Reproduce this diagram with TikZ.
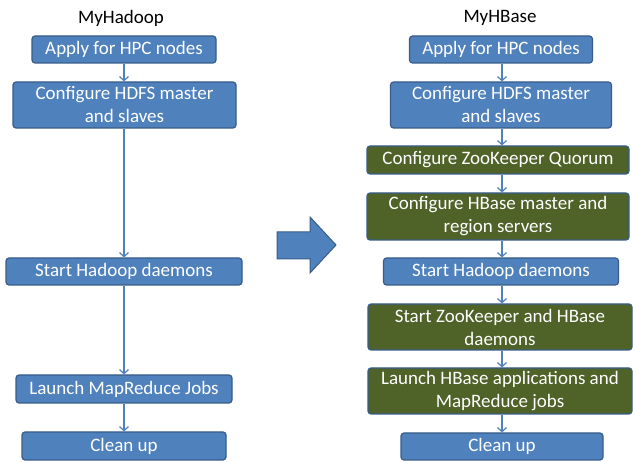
\documentclass[tikz,border=0pt]{standalone}
\usepackage{fontspec}
\setmainfont{Carlito}
\usetikzlibrary{arrows.meta}
\definecolor{boxblue}{HTML}{4F81BD}
\definecolor{boxedge}{HTML}{385D8A}
\definecolor{boxgreen}{HTML}{4F6228}
\tikzset{
  stepbox/.style={draw=boxedge, line width=1.2pt, rounded corners=3pt, fill=boxblue,
    text=white, align=center, inner sep=0pt, font=\fontsize{19}{23}\selectfont},
  greenbox/.style={stepbox, fill=boxgreen},
  flow/.style={draw=boxblue, line width=1.2pt, -{Straight Barb[length=4pt,width=9pt,line width=1.2pt]}},
  heading/.style={font=\fontsize{19}{22}\selectfont, text=black},
}
\begin{document}
\begin{tikzpicture}[x=1pt,y=-1pt]
\useasboundingbox (0,0) rectangle (633,462);
\fill[white] (0,0) rectangle (633,462);

% left column
\node[heading] (tL) at (121,18) {MyHadoop};
\node[stepbox, minimum width=184pt, minimum height=27pt] (apL) at (124,49.5) {Apply for HPC nodes};
\node[stepbox, minimum width=223pt, minimum height=46pt] (hdfsL) at (124.5,105) {Configure HDFS master\\and slaves};
\node[stepbox, minimum width=236pt, minimum height=27pt] (startL) at (124,271.5) {Start Hadoop daemons};
\node[stepbox, minimum width=216pt, minimum height=28pt] (launchL) at (124,389) {Launch MapReduce Jobs};
\node[stepbox, minimum width=204pt, minimum height=28pt] (cleanL) at (124,446) {Clean up};

\draw[flow] (apL.south) -- (apL.south |- hdfsL.north);
\draw[flow] (apL.south |- hdfsL.south) -- (apL.south |- startL.north);
\draw[flow] (apL.south |- startL.south) -- (apL.south |- launchL.north);
\draw[flow] (apL.south |- launchL.south) -- (apL.south |- cleanL.north);

% right column
\node[heading] (tR) at (500,18) {MyHBase};
\node[stepbox, minimum width=183pt, minimum height=27pt] (apR) at (501,49.5) {Apply for HPC nodes};
\node[stepbox, minimum width=221pt, minimum height=46pt] (hdfsR) at (501,105) {Configure HDFS master\\and slaves};
\node[greenbox, minimum width=262pt, minimum height=28pt] (zkq) at (498,160) {Configure ZooKeeper Quorum};
\node[greenbox, minimum width=262pt, minimum height=47pt] (hbm) at (498,216.5) {Configure HBase master and\\region servers};
\node[stepbox, minimum width=235pt, minimum height=27pt] (startR) at (501,271.5) {Start Hadoop daemons};
\node[greenbox, minimum width=264pt, minimum height=46pt] (zks) at (500,327) {Start ZooKeeper and HBase\\daemons};
\node[greenbox, minimum width=264pt, minimum height=46pt] (launchR) at (500,391) {Launch HBase applications and\\MapReduce jobs};
\node[stepbox, minimum width=202pt, minimum height=27pt] (cleanR) at (502,446.5) {Clean up};

\coordinate (xr) at (502,0);
\draw[flow] (xr |- apR.south) -- (xr |- hdfsR.north);
\draw[flow] (xr |- hdfsR.south) -- (xr |- zkq.north);
\draw[flow] (xr |- zkq.south) -- (xr |- hbm.north);
\draw[flow] (xr |- hbm.south) -- (xr |- startR.north);
\draw[flow] (xr |- startR.south) -- (xr |- zks.north);
\draw[flow] (xr |- zks.south) -- (xr |- launchR.north);
\draw[flow] (xr |- launchR.south) -- (xr |- cleanR.north);

% block arrow between the two columns
\filldraw[fill=boxblue, draw=boxedge, line width=1pt, line join=miter]
  (277,232) -- (310,232) -- (310,217) -- (336,245) -- (310,273) -- (310,259) -- (277,259) -- cycle;
\end{tikzpicture}
\end{document}
